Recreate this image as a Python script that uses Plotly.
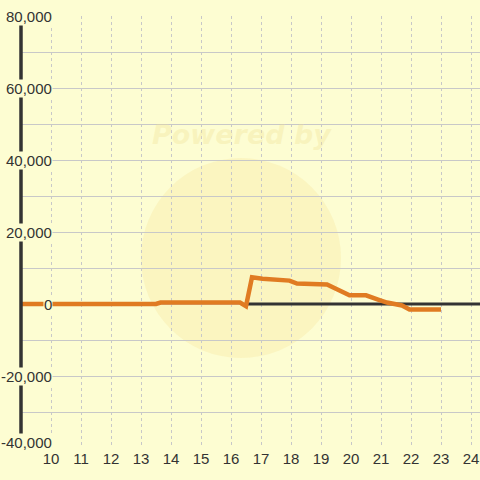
import plotly.graph_objects as go

# data
hours = [9, 13.5, 13.65, 16.3, 16.5, 16.7, 17.05, 17.95, 18.2, 19.2, 19.95, 20.5, 20.95, 21.2, 21.7, 21.95, 23.0]
values = [0, 0, 400, 400, -600, 7400, 7000, 6500, 5700, 5400, 2400, 2400, 1100, 400, -400, -1500, -1500]
x_ticks = list(range(10, 25))
y_ticks = [80000, 60000, 40000, 20000, 0, -20000, -40000]
y_tick_labels = ["80,000", "60,000", "40,000", "20,000", "0", "-20,000", "-40,000"]
baseline_start = 16.55

BG = "#fdfdd2"
X_RANGE = [9, 9 + 459 / 30]
Y_RANGE = [-40000, 80000]

fig = go.Figure()

# zero baseline
fig.add_trace(go.Scatter(x=[baseline_start, X_RANGE[1]], y=[0, 0], mode="lines",
                         line=dict(color="#333333", width=3),
                         hoverinfo="skip", showlegend=False))
fig.add_trace(go.Scatter(x=hours, y=values, mode="lines",
                         line=dict(color="#e07b22", width=4.5),
                         hoverinfo="skip", showlegend=False))

shapes = []
# watermark circle
shapes.append(dict(type="circle", xref="paper", yref="paper",
                   x0=(141 - 21) / 459, x1=(341 - 21) / 459,
                   y0=(448 - 358) / 432, y1=(448 - 158) / 432,
                   fillcolor="rgba(248,236,170,0.45)", line=dict(width=0), layer="below"))
# left axis line
shapes.append(dict(type="line", xref="paper", yref="y", x0=0, x1=0,
                   y0=Y_RANGE[0], y1=Y_RANGE[1], line=dict(color="#333333", width=3.5)))

annotations = []
annotations.append(dict(text="<b><i>Powered by</i></b>", xref="paper", yref="paper",
                        x=(242 - 21) / 459, y=(448 - 135) / 432, showarrow=False,
                        xanchor="center", yanchor="middle",
                        font=dict(family="DejaVu Sans", size=27, color="rgba(240,225,150,0.35)")))
for v, lab in zip(y_ticks, y_tick_labels):
    annotations.append(dict(text=lab, xref="x", yref="y", x=10, y=v, xanchor="right",
                            yanchor="middle", xshift=2, yshift=(6 if v == Y_RANGE[0] else 0),
                            showarrow=False, bgcolor=BG, borderpad=0,
                            font=dict(family="Liberation Sans, Arial", size=15, color="#333333")))

fig.update_layout(
    width=480, height=480,
    margin=dict(l=21, r=0, t=16, b=32),
    paper_bgcolor=BG, plot_bgcolor=BG,
    shapes=shapes, annotations=annotations,
    showlegend=False,
    xaxis=dict(range=X_RANGE, tickmode="array", tickvals=x_ticks,
               ticktext=[str(t) for t in x_ticks],
               showgrid=True, gridcolor="#c8c8c8", griddash="dot", gridwidth=1,
               zeroline=False, showline=False, ticks="",
               tickfont=dict(family="Liberation Sans, Arial", size=15, color="#333333")),
    yaxis=dict(range=Y_RANGE, tickmode="linear", tick0=0, dtick=10000,
               showticklabels=False, showgrid=True, gridcolor="#c8c8c8", gridwidth=1,
               zeroline=False, showline=False),
)

fig.write_html("out.html", config={"displayModeBar": False},
               post_script="document.body.style.margin='0';document.body.style.overflow='hidden';")
